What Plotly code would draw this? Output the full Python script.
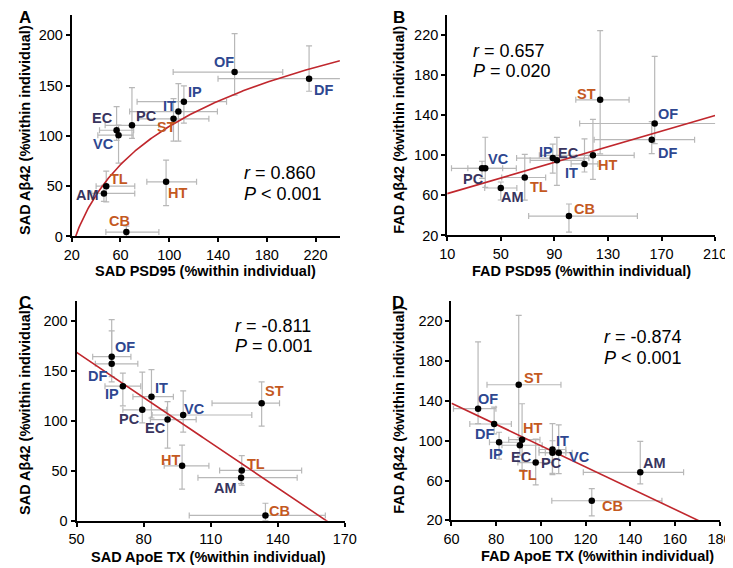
import numpy as np
import plotly.graph_objects as go

W, H = 733, 568
FONT = "Liberation Sans, Arial, sans-serif"

regions = ["OF", "DF", "IP", "IT", "ST", "PC", "EC", "VC", "TL", "AM", "HT", "CB"]
region_group = ["blue", "blue", "blue", "blue", "orange", "dark", "dark", "blue", "orange", "dark", "orange", "orange"]

# ---- Panel A: SAD PSD95 vs SAD Abeta42
A_x = [153.6, 214.7, 112.0, 107.5, 103.5, 69.4, 56.8, 58.4, 48.3, 46.4, 97.4, 64.8]
A_x_hi = [39.5, 26.0, 35.0, 32.0, 29.0, 22.0, 14.0, 12.0, 23.4, 25.3, 25.0, 26.7]
A_x_lo = [50.4, 74.7, 38.4, 40.0, 29.0, 22.0, 14.0, 17.0, 8.3, 10.0, 15.8, 16.8]
A_y = [163.4, 156.9, 134.0, 124.2, 117.0, 110.5, 105.6, 100.7, 50.0, 42.8, 54.3, 4.3]
A_y_hi = [38.2, 32.6, 15.7, 27.8, 20.0, 37.5, 23.4, 10.0, 15.0, 8.0, 21.5, 6.0]
A_y_lo = [22.9, 12.5, 21.3, 29.4, 22.2, 13.0, 10.0, 27.8, 15.7, 8.0, 23.6, 4.3]

# ---- Panel B: FAD PSD95 vs FAD Abeta42
B_x = [164.9, 162.7, 88.8, 112.5, 124.2, 36.0, 91.9, 38.4, 67.9, 50.0, 118.8, 100.9]
B_x_hi = [50.0, 32.0, 27.0, 10.0, 21.6, 25.6, 20.0, 13.0, 15.6, 12.0, 30.8, 51.1]
B_x_lo = [56.0, 43.0, 27.0, 10.0, 18.2, 22.8, 20.0, 13.0, 17.2, 12.0, 40.0, 30.1]
B_y = [131.8, 115.7, 97.3, 91.4, 155.5, 87.1, 95.0, 87.1, 77.9, 67.4, 100.0, 39.4]
B_y_hi = [67.0, 18.0, 14.0, 25.0, 69.0, 7.0, 23.0, 31.0, 23.0, 6.0, 36.0, 12.0]
B_y_lo = [20.0, 14.0, 15.0, 8.0, 54.0, 10.0, 25.0, 19.0, 22.7, 12.0, 24.0, 16.0]

# ---- Panel C: SAD ApoE TX vs SAD Abeta42
C_x = [65.7, 65.7, 70.7, 83.5, 132.8, 79.4, 90.7, 97.7, 123.9, 123.6, 97.2, 134.5]
C_x_hi = [8.6, 11.7, 8.0, 9.8, 8.0, 10.9, 12.8, 30.7, 26.8, 25.1, 12.0, 26.8]
C_x_lo = [8.5, 7.3, 8.0, 8.3, 22.2, 8.7, 7.7, 13.9, 9.9, 19.3, 8.0, 34.1]
C_y = [163.9, 156.7, 134.4, 123.9, 117.4, 110.8, 101.0, 105.6, 50.2, 43.0, 54.8, 5.2]
C_y_hi = [37.0, 33.0, 13.0, 27.0, 21.3, 37.7, 18.0, 24.2, 14.8, 6.0, 20.6, 12.2]
C_y_lo = [20.0, 18.0, 19.6, 21.3, 23.0, 13.1, 28.5, 17.1, 14.8, 6.0, 23.3, 5.2]

# ---- Panel D: FAD ApoE TX vs FAD Abeta42
D_x = [71.9, 79.1, 81.3, 105.2, 90.1, 105.2, 90.6, 108.0, 97.7, 144.5, 91.6, 122.8]
D_x_hi = [8.0, 7.7, 9.5, 6.0, 18.9, 6.0, 10.0, 6.0, 8.0, 19.4, 8.0, 31.4]
D_x_lo = [11.0, 10.9, 4.3, 6.0, 14.2, 6.0, 8.0, 6.0, 8.0, 25.5, 6.0, 17.9]
D_y = [132.1, 116.7, 98.4, 91.1, 156.1, 87.9, 95.4, 87.9, 78.0, 68.2, 101.0, 39.7]
D_y_hi = [67.0, 17.0, 10.0, 26.0, 69.5, 12.0, 8.0, 28.0, 23.6, 31.1, 36.0, 12.1]
D_y_lo = [15.0, 10.0, 17.0, 24.0, 55.0, 22.0, 10.0, 21.0, 22.3, 11.5, 30.0, 15.1]

stats = {
    "A": ("0.860", "<"), "B": ("0.657", "="),
    "C": ("-0.811", "="), "D": ("-0.874", "<"),
}
p_text = {"A": "0.001", "B": "0.020", "C": "0.001", "D": "0.001"}

x_titles = {"A": "SAD PSD95 (%within individual)", "B": "FAD PSD95 (%within individual)",
            "C": "SAD ApoE TX (%within individual)", "D": "FAD ApoE TX (%within individual)"}
y_titles = {"A": "SAD Aβ42 (%within individual)", "B": "FAD Aβ42 (%within individual)",
            "C": "SAD Aβ42 (%within individual)", "D": "FAD Aβ42 (%within individual)"}

# ---------------- layout / style (positions in pixels) ----------------
colors = {"blue": "#2E4790", "dark": "#38345E", "orange": "#C4591F"}
panels = {
    "A": dict(data=(A_x, A_x_hi, A_x_lo, A_y, A_y_hi, A_y_lo), fit="log",
              px=(57.3, 333.0), py=(231.7, 7.3), xr=(20, 240), xd=40, yr=(0, 220), yd=50,
              lab=[(-11, -10), (14.3, 11.7), (11.3, -10), (-9.3, -5.7), (-6.7, 8.3), (14.3, -9),
                   (-14.3, -12.3), (-15.3, 9.3), (12.3, -6.7), (-16, 1.3), (11.3, 10.7), (-7, -11)],
              stat=(232, 167.2, 188.2), xt=(194.7, 266.7), yt=(10, 124), letter=(9.7, 10)),
    "B": dict(data=(B_x, B_x_hi, B_x_lo, B_y, B_y_hi, B_y_lo), fit="lin",
              px=(443.3, 718.7), py=(230.7, 7.3), xr=(10, 210), xd=40, yr=(20, 240), yd=40,
              lab=[(13.7, -10), (15.3, 13), (-6.7, -5.7), (-13.3, 9), (-13.7, -6), (-9, 10.7),
                   (11.7, -7.3), (13, -9.3), (14.7, 9.7), (11.7, 9), (14.7, 9.7), (16, -7)],
              stat=(467.7, 43.5, 63.5), xt=(581, 266.7), yt=(394.3, 124), letter=(393.5, 10)),
    "C": dict(data=(C_x, C_x_hi, C_x_lo, C_y, C_y_hi, C_y_lo), fit="lin",
              px=(62.3, 338.0), py=(520.0, 296.7), xr=(50, 170), xd=30, yr=(0, 220), yd=50,
              lab=[(13.3, -9.3), (-14, 11.7), (-10.7, 8.3), (10, -8.3), (13.3, -12.3), (-13.3, 9.3),
                   (-12, 8.3), (11.3, -6), (14.3, -6), (-15.7, 10.3), (-11.7, -6), (14, -4.7)],
              stat=(222.7, 322.6, 343.2), xt=(198, 557.3), yt=(10, 408), letter=(9, 298.5)),
    "D": dict(data=(D_x, D_x_hi, D_x_lo, D_y, D_y_hi, D_y_lo), fit="lin",
              px=(447.7, 723.3), py=(519.7, 297.3), xr=(60, 180), xd=20, yr=(20, 240), yd=40,
              lab=[(10.3, -10), (-9.7, 10.3), (-3.3, 11.7), (10.3, -8.3), (14.7, -6.7), (-0.7, 10),
                   (1.3, 11.7), (20.7, 4.3), (-7.3, 12.7), (14, -9), (10, -11.7), (20.7, 5.3)],
              stat=(602.7, 334.2, 355.2), xt=(598, 555.7), yt=(394.3, 408), letter=(393, 298.5)),
}

fx = lambda p: p / W
fy = lambda p: 1 - p / H

fig = go.Figure()
annotations = []
layout_axes = {}

for i, (name, P) in enumerate(panels.items()):
    k = "" if i == 0 else str(i + 1)
    xa, ya = "x" + k, "y" + k
    xs, xhi, xlo, ys, yhi, ylo = [np.array(v, dtype=float) for v in P["data"]]

    axis_common = dict(showline=True, linecolor="black", linewidth=2, ticks="outside",
                       ticklen=4, tickwidth=1.5, tickcolor="black", showgrid=False,
                       zeroline=False, tickmode="linear",
                       tickfont=dict(family=FONT, size=14.5, color="black"))
    layout_axes["xaxis" + k] = dict(axis_common, domain=[fx(P["px"][0]), fx(P["px"][1])],
                                    range=list(P["xr"]), tick0=P["xr"][0], dtick=P["xd"], anchor=ya)
    layout_axes["yaxis" + k] = dict(axis_common, domain=[fy(P["py"][0]), fy(P["py"][1])],
                                    range=list(P["yr"]), tick0=P["yr"][0], dtick=P["yd"], anchor=xa)

    # error bars
    fig.add_trace(go.Scatter(
        x=xs, y=ys, xaxis=xa, yaxis=ya, mode="markers",
        marker=dict(size=6, color="rgba(0,0,0,0)"),
        error_x=dict(type="data", symmetric=False, array=xhi, arrayminus=xlo,
                     color="#B8B8B8", thickness=1.2, width=3),
        error_y=dict(type="data", symmetric=False, array=yhi, arrayminus=ylo,
                     color="#B8B8B8", thickness=1.2, width=3),
        showlegend=False, hoverinfo="skip"))

    # trend line fitted to the data
    xx = np.linspace(P["xr"][0], P["xr"][1], 300)
    if P["fit"] == "log":
        a, b = np.polyfit(np.log(xs), ys, 1)
        yy = a * np.log(xx) + b
    else:
        a, b = np.polyfit(xs, ys, 1)
        yy = a * xx + b
    fig.add_trace(go.Scatter(x=xx, y=yy, xaxis=xa, yaxis=ya, mode="lines",
                             line=dict(color="#C0272D", width=1.6),
                             showlegend=False, hoverinfo="skip"))

    # points
    fig.add_trace(go.Scatter(x=xs, y=ys, xaxis=xa, yaxis=ya, mode="markers",
                             marker=dict(size=6.5, color="black"), showlegend=False))

    # region labels
    for j, reg in enumerate(regions):
        dx, dy = P["lab"][j]
        annotations.append(dict(x=xs[j], y=ys[j], xref=xa, yref=ya, text="<b>%s</b>" % reg,
                                showarrow=False, xshift=dx, yshift=-dy,
                                xanchor="center", yanchor="middle",
                                font=dict(family=FONT, size=14.5, color=colors[region_group[j]])))

    # statistics text
    rv, pop = stats[name]
    sx, sy1, sy2 = P["stat"]
    annotations.append(dict(x=fx(sx), y=fy(sy1), xref="paper", yref="paper",
                            text="<i>r</i> = %s" % rv, showarrow=False,
                            xanchor="left", yanchor="middle",
                            font=dict(family=FONT, size=18, color="black")))
    annotations.append(dict(x=fx(sx), y=fy(sy2), xref="paper", yref="paper",
                            text="<i>P</i> %s %s" % (pop, p_text[name]), showarrow=False,
                            xanchor="left", yanchor="middle",
                            font=dict(family=FONT, size=18, color="black")))

    # axis titles
    annotations.append(dict(x=fx(P["xt"][0]), y=fy(P["xt"][1]), xref="paper", yref="paper",
                            text="<b>%s</b>" % x_titles[name], showarrow=False,
                            xanchor="center", yanchor="middle",
                            font=dict(family=FONT, size=14.5, color="black")))
    annotations.append(dict(x=fx(P["yt"][0]), y=fy(P["yt"][1]), xref="paper", yref="paper",
                            text="<b>%s</b>" % y_titles[name], showarrow=False, textangle=-90,
                            xanchor="center", yanchor="middle",
                            font=dict(family=FONT, size=14.5, color="black")))
    # panel letter
    annotations.append(dict(x=fx(P["letter"][0]), y=fy(P["letter"][1]), xref="paper", yref="paper",
                            text="<b>%s</b>" % name, showarrow=False,
                            xanchor="center", yanchor="middle",
                            font=dict(family=FONT, size=17, color="black")))

fig.update_layout(
    width=W, height=H, margin=dict(l=0, r=0, t=0, b=0),
    paper_bgcolor="white", plot_bgcolor="white",
    annotations=annotations, showlegend=False, **layout_axes)

fig.write_html("out.html")
